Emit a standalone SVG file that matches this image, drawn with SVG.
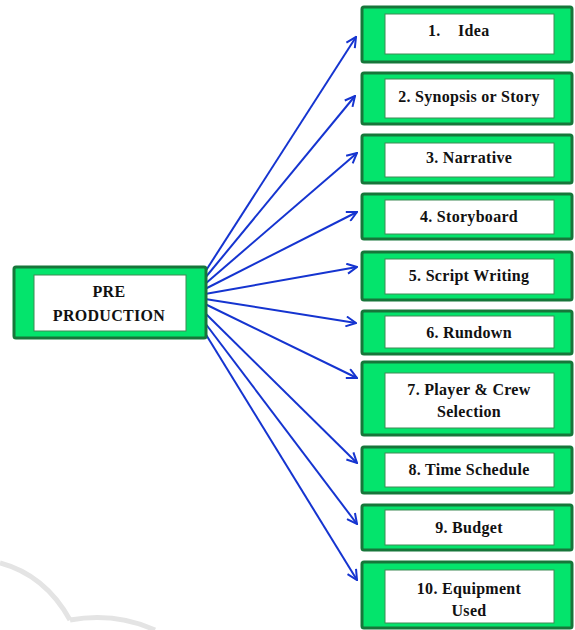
<svg xmlns="http://www.w3.org/2000/svg" width="575" height="630" viewBox="0 0 575 630">
<style>
.outer{fill:#04E46C;stroke:#17763A;stroke-width:3}
.inner{fill:#FFFFFF;stroke:#3F8A55;stroke-width:1}
.t{font-family:"Liberation Serif","Times New Roman",serif;font-weight:bold;font-size:16px;fill:#111;text-anchor:middle;letter-spacing:0.3px}
.c{fill:none;stroke:#1534D0;stroke-width:2}
</style>
<defs>
<marker id="ah" viewBox="0 0 12 12" refX="11" refY="6" markerWidth="12" markerHeight="12" markerUnits="userSpaceOnUse" orient="auto">
<path d="M1,1 L11,6 L1,11" fill="none" stroke="#1534D0" stroke-width="2"/>
</marker>
</defs>
<rect width="575" height="630" fill="#fff"/>
<path d="M0,563 Q45,575 70,620 M70,620 Q115,612 155,630" fill="none" stroke="#E4E4E4" stroke-width="5"/>
<g id="connectors">
<line class="c" x1="205" y1="272" x2="356" y2="37" marker-end="url(#ah)"/>
<line class="c" x1="205" y1="278" x2="355" y2="96" marker-end="url(#ah)"/>
<line class="c" x1="205" y1="284" x2="357" y2="153" marker-end="url(#ah)"/>
<line class="c" x1="205" y1="289" x2="357" y2="212" marker-end="url(#ah)"/>
<line class="c" x1="205" y1="294" x2="357" y2="267" marker-end="url(#ah)"/>
<line class="c" x1="205" y1="299" x2="356" y2="323" marker-end="url(#ah)"/>
<line class="c" x1="205" y1="304" x2="357" y2="378" marker-end="url(#ah)"/>
<line class="c" x1="205" y1="313" x2="357" y2="463" marker-end="url(#ah)"/>
<line class="c" x1="205" y1="323" x2="357" y2="524" marker-end="url(#ah)"/>
<line class="c" x1="205" y1="333" x2="357" y2="580" marker-end="url(#ah)"/>
</g>
<g id="pre-production">
<rect class="outer" x="14" y="267" width="192" height="71" rx="2"/>
<rect class="inner" x="34" y="275" width="152" height="56"/>
<text class="t" x="109" y="297">PRE</text>
<text class="t" x="109" y="321">PRODUCTION</text>
</g>
<g id="n1">
<rect class="outer" x="362" y="7" width="210" height="55" rx="2"/>
<rect class="inner" x="385" y="14" width="169" height="40"/>
<text class="t" x="428" y="36" style="text-anchor:start">1.</text>
<text class="t" x="458" y="36" style="text-anchor:start">Idea</text>
</g>
<g id="n2">
<rect class="outer" x="362" y="73" width="210" height="51" rx="2"/>
<rect class="inner" x="385" y="79" width="169" height="39"/>
<text class="t" x="469" y="102">2. Synopsis or Story</text>
</g>
<g id="n3">
<rect class="outer" x="362" y="135" width="210" height="48" rx="2"/>
<rect class="inner" x="385" y="143" width="169" height="34"/>
<text class="t" x="469" y="163">3. Narrative</text>
</g>
<g id="n4">
<rect class="outer" x="362" y="194" width="210" height="45" rx="2"/>
<rect class="inner" x="385" y="200" width="169" height="34"/>
<text class="t" x="469" y="222">4. Storyboard</text>
</g>
<g id="n5">
<rect class="outer" x="362" y="252" width="210" height="48" rx="2"/>
<rect class="inner" x="385" y="259" width="169" height="35"/>
<text class="t" x="469" y="281">5. Script Writing</text>
</g>
<g id="n6">
<rect class="outer" x="362" y="311" width="210" height="43" rx="2"/>
<rect class="inner" x="385" y="316" width="169" height="32"/>
<text class="t" x="469" y="338">6. Rundown</text>
</g>
<g id="n7">
<rect class="outer" x="362" y="362" width="210" height="73" rx="2"/>
<rect class="inner" x="385" y="373" width="169" height="55"/>
<text class="t" x="469" y="395">7. Player &amp; Crew</text>
<text class="t" x="469" y="417">Selection</text>
</g>
<g id="n8">
<rect class="outer" x="362" y="447" width="210" height="46" rx="2"/>
<rect class="inner" x="385" y="453" width="169" height="34"/>
<text class="t" x="469" y="475">8. Time Schedule</text>
</g>
<g id="n9">
<rect class="outer" x="362" y="505" width="210" height="45" rx="2"/>
<rect class="inner" x="385" y="510" width="169" height="35"/>
<text class="t" x="469" y="533">9. Budget</text>
</g>
<g id="n10">
<rect class="outer" x="362" y="562" width="210" height="66" rx="2"/>
<rect class="inner" x="385" y="570" width="169" height="53"/>
<text class="t" x="469" y="594">10. Equipment</text>
<text class="t" x="469" y="616">Used</text>
</g>
</svg>
